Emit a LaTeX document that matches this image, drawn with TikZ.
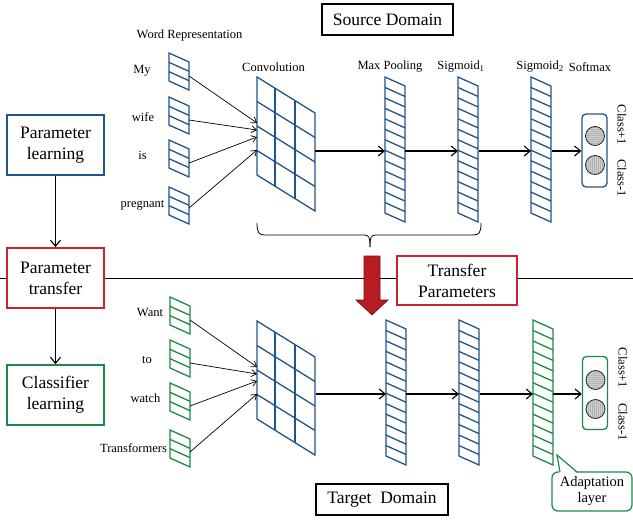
\documentclass[tikz,border=0pt]{standalone}
\usepackage{fontspec}
\setmainfont{Liberation Serif}
\usetikzlibrary{arrows.meta}
\definecolor{lblue}{RGB}{33,84,136}
\definecolor{lgreen}{RGB}{28,138,68}
\definecolor{lred}{RGB}{196,38,44}
\definecolor{arrred}{RGB}{184,28,34}
\definecolor{arrdark}{RGB}{110,15,18}

\newcommand{\stripelayer}[3]{%
  \draw[#3, line width=1.3pt, line join=miter] (#1,#2) -- ++(20,9) -- ++(0,136) -- ++(-20,-9) -- cycle;
  \foreach \i in {1,...,12}{\draw[#3, line width=1.3pt] (#1,{#2+\i*136/13}) -- ++(20,9);}
}
\newcommand{\wordvec}[3]{%
  \draw[#3, line width=1.3pt, line join=miter] (#1,#2) -- ++(20,9) -- ++(0,28) -- ++(-20,-9) -- cycle;
  \draw[#3, line width=1.3pt] (#1,{#2+28/3}) -- ++(20,9);
  \draw[#3, line width=1.3pt] (#1,{#2+56/3}) -- ++(20,9);
}
\newcommand{\convgrid}[1]{%
  \draw[lblue, line width=1.3pt, line join=miter] (257,#1) -- (315,{#1+36}) -- (315,{#1+134}) -- (257,{#1+98}) -- cycle;
  \foreach \i in {1,2,3}{\draw[lblue, line width=1.3pt] (257,{#1+\i*24.5}) -- (315,{#1+36+\i*24.5});}
  \foreach \xx in {275,295}{\draw[lblue, line width=1.3pt] (\xx,{#1+(\xx-257)*36/58}) -- ++(0,98);}
}
\newcommand{\stripedcircle}[3]{%
  \begin{scope}
    \clip (#1,#2) circle [radius=9.5pt];
    \fill[gray!38] (#1,#2) circle [radius=9.5pt];
    \ifx#3h
      \foreach \k in {-9,-7,...,9}{\draw[gray!60, line width=.4pt] ({#1-10},{#2+\k}) -- ({#1+10},{#2+\k});}
    \else
      \foreach \k in {-9,-7,...,9}{\draw[gray!60, line width=.4pt] ({#1+\k},{#2-10}) -- ({#1+\k},{#2+10});}
    \fi
  \end{scope}
  \draw[gray!30!black, line width=.8pt] (#1,#2) circle [radius=9.5pt];
}

\begin{document}
\begin{tikzpicture}[x=1pt,y=-1pt,
  small/.style={font=\fontsize{12.5}{14}\selectfont, inner sep=0},
  big/.style={font=\fontsize{17.5}{21}\selectfont, align=center},
  lbox/.style={big, draw, line width=1.8pt, fill=white, minimum width=97pt, minimum height=60pt, inner sep=0},
  dombox/.style={big, draw=black, line width=1.8pt, fill=white, minimum height=31pt, inner sep=0},
  arr/.style={-{Straight Barb[length=6pt,width=10pt]}, line width=1.1pt},
  warr/.style={-{Straight Barb[length=5pt,width=7pt]}, line width=.7pt},
  clabel/.style={font=\fontsize{12.5}{14}\selectfont, rotate=-90, inner sep=0},
  smbox/.style={line width=1.3pt, rounded corners=4pt, minimum width=25pt, minimum height=73pt, inner sep=0}]
\useasboundingbox (0,0) rectangle (633,520);

% divider
\draw[line width=0.9pt] (0,278) -- (633,278);

% left column
\node[lbox, draw=lblue] (pl) at (55.5,145) {Parameter\\learning};
\node[lbox, draw=lred] (pt) at (55.5,278) {Parameter\\transfer};
\node[lbox, draw=lgreen] (cl) at (55.5,395) {Classifier\\learning};
\draw[arr] (pl.south) -- (pt.north);
\draw[arr] (pt.south) -- (cl.north);

% domain boxes
\node[dombox, minimum width=131pt] (src) at (387.5,19.5) {Source Domain};
\node[dombox, minimum width=132pt] (tgt) at (382,499.5) {Target\enspace Domain};

% headers
\node[small] (hwr) at (189.5,35) {Word Representation};
\node[small] (hconv) at (273.5,67) {Convolution};
\node[small] (hmp) at (390,67) {Max Pooling};
\node[small] (hs1) at (461,67) {Sigmoid\textsubscript{1}};
\node[small] (hs2) at (540,67) {Sigmoid\textsubscript{2}};
\node[small] (hsm) at (590,67) {Softmax};

% ---------- source network ----------
\wordvec{169}{53}{lblue}
\wordvec{169}{97}{lblue}
\wordvec{169}{140}{lblue}
\wordvec{169}{187}{lblue}
\node[small] (wmy) at (142,71) {My};
\node[small] (wwife) at (143,117) {wife};
\node[small] (wis) at (142.5,155) {is};
\node[small] (wpreg) at (142.5,205) {pregnant};
\convgrid{77}
\coordinate (v1) at (189,76); \coordinate (v2) at (189,120);
\coordinate (v3) at (189,163); \coordinate (v4) at (189,208);
\coordinate (c1a) at (257,123); \coordinate (c1b) at (257,130);
\coordinate (c1c) at (257,137); \coordinate (c1d) at (257,150);
\draw[warr] (v1) -- (c1a);
\draw[warr] (v2) -- (c1b);
\draw[warr] (v3) -- (c1c);
\draw[warr] (v4) -- (c1d);

\stripelayer{385}{77}{lblue}
\stripelayer{458}{77}{lblue}
\stripelayer{531}{77}{lblue}
\node[smbox, draw=lblue] (sm1) at (594.5,150.5) {};
\stripedcircle{595}{136}{h}
\stripedcircle{595}{165}{v}
\node[clabel] (c1p) at (622,125) {Class+1};
\node[clabel] (c1m) at (622,178) {Class-1};

\coordinate (cR1) at (315,151); \coordinate (mpL1) at (385,151);
\coordinate (mpR1) at (405,151); \coordinate (saL1) at (458,151);
\coordinate (saR1) at (479,151); \coordinate (sbL1) at (531,151);
\coordinate (sbR1) at (552,151);
\draw[arr] (cR1) -- (mpL1);
\draw[arr] (mpR1) -- (saL1);
\draw[arr] (saR1) -- (sbL1);
\draw[arr] (sbR1) -- (sbR1 -| sm1.west);

% brace
\draw[line width=0.8pt] (257,223) .. controls (257,233) and (259,235) .. (265,235) -- (364,235) .. controls (369,235) and (370,237) .. (370,247);
\draw[line width=0.8pt] (481,223) .. controls (481,233) and (479,235) .. (473,235) -- (376,235) .. controls (371,235) and (370,237) .. (370,247);

% transfer arrow and box
\node[lbox, draw=lred, minimum width=120pt, minimum height=49pt] (tp) at (457,280.5) {Transfer\\Parameters};
\filldraw[fill=arrred, draw=arrdark, line width=.6pt] (364,256) -- (380,256) -- (380,300) -- (388,300) -- (372,315) -- (356,300) -- (364,300) -- cycle;

% ---------- target network ----------
\wordvec{170}{297}{lgreen}
\wordvec{170}{340}{lgreen}
\wordvec{170}{383}{lgreen}
\wordvec{170}{430}{lgreen}
\node[small] (wwant) at (150,312) {Want};
\node[small] (wto) at (147,360) {to};
\node[small] (wwatch) at (145.5,398) {watch};
\node[small] (wtrans) at (133.5,448) {Transformers};
\convgrid{321}
\coordinate (u1) at (190,320); \coordinate (u2) at (190,363);
\coordinate (u3) at (190,406); \coordinate (u4) at (190,452);
\coordinate (c2a) at (257,367); \coordinate (c2b) at (257,374);
\coordinate (c2c) at (257,381); \coordinate (c2d) at (257,394);
\draw[warr] (u1) -- (c2a);
\draw[warr] (u2) -- (c2b);
\draw[warr] (u3) -- (c2c);
\draw[warr] (u4) -- (c2d);

\stripelayer{386}{320}{lblue}
\stripelayer{459}{320}{lblue}
\stripelayer{533}{320}{lgreen}
\node[smbox, draw=lgreen] (sm2) at (595,393) {};
\stripedcircle{595.5}{380}{h}
\stripedcircle{595.5}{409}{v}
\node[clabel] (c2p) at (623,368) {Class+1};
\node[clabel] (c2m) at (623,422) {Class-1};

\coordinate (cR2) at (316,394); \coordinate (mpL2) at (386,394);
\coordinate (mpR2) at (406,394); \coordinate (saL2) at (459,394);
\coordinate (saR2) at (480,394); \coordinate (sbL2) at (533,394);
\coordinate (sbR2) at (553,394);
\draw[arr] (cR2) -- (mpL2);
\draw[arr] (mpR2) -- (saL2);
\draw[arr] (saR2) -- (sbL2);
\draw[arr] (sbR2) -- (sbR2 -| sm2.west);

% adaptation callout
\node[draw=lgreen, line width=1.2pt, rounded corners=6pt, fill=white, minimum width=80pt, minimum height=39pt, inner sep=0, align=center, font=\fontsize{14.5}{16}\selectfont] (adapt) at (592,491.5) {Adaptation\\layer};
\coordinate (tip) at (557,455);
\fill[white] (559.5,474) -- (tip) -- (577.5,474) -- cycle;
\draw[lgreen, line width=1.2pt, line join=miter] (560,472) -- (tip) -- (577,472);
\end{tikzpicture}
\end{document}
